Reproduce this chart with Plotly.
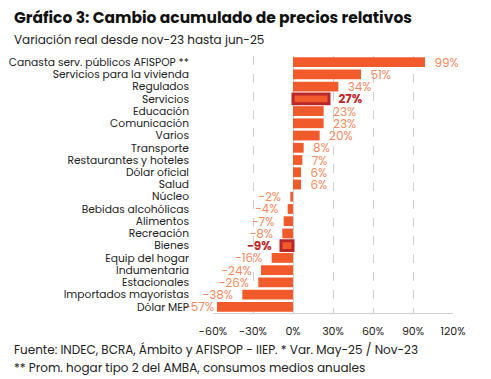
import plotly.graph_objects as go

categories = ["Canasta serv. públicos AFISPOP **", "Servicios para la vivienda", "Regulados",
              "Servicios", "Educación", "Comunicación", "Varios", "Transporte",
              "Restaurantes y hoteles", "Dólar oficial", "Salud", "Núcleo",
              "Bebidas alcohólicas", "Alimentos", "Recreación", "Bienes",
              "Equip del hogar", "Indumentaria", "Estacionales",
              "Importados mayoristas", "Dólar MEP"]
values = [99, 51, 34, 27, 23, 23, 20, 8, 7, 6, 6, -2, -4, -7, -8, -9, -16, -24, -26, -38, -57]
highlighted = ["Servicios", "Bienes"]
tick_vals = [-60, -30, 0, 30, 60, 90, 120]
tick_text = ["-60%", "-30%", "0%", "30%", "60%", "90%", "120%"]

BAR = "#F15A2B"
LBL = "#F58A62"
HL = "#B8282A"
FONT = "Poppins, Inter, Open Sans, sans-serif"


def fmt(c, v):
    s = f"{v}%".replace("-", "−")
    if c in highlighted:
        s = f"<b>{s}</b>"
    if v >= 0:
        return "  " + s
    if v <= -50:
        return s
    return s + "  "


line_colors = [HL if c in highlighted else "rgba(0,0,0,0)" for c in categories]
line_widths = [3 if c in highlighted else 0 for c in categories]
texts = [fmt(c, v) for c, v in zip(categories, values)]
text_colors = [HL if c in highlighted else LBL for c in categories]

fig = go.Figure(go.Bar(
    x=values, y=categories, orientation="h",
    marker=dict(color=BAR, line=dict(color=line_colors, width=line_widths)),
    text=texts, textposition="outside", cliponaxis=False, constraintext="none",
    textfont=dict(color=text_colors, size=12, family=FONT),
    hoverinfo="skip",
))

# page has an 8px body margin: figure drawn at (8, 8)
fig.update_layout(
    width=483, height=371,
    margin=dict(l=205, r=38, t=48, b=66),
    paper_bgcolor="white", plot_bgcolor="white",
    bargap=0.2, showlegend=False,
    font=dict(family=FONT, color="#222222"),
    xaxis=dict(range=[-60, 120], tickvals=tick_vals, ticktext=tick_text, automargin=False,
               showgrid=True, gridcolor="#D0D0D0", griddash="dash", gridwidth=1,
               zeroline=True, zerolinecolor="#D0D0D0", zerolinewidth=1,
               showline=True, linecolor="#D0D0D0", linewidth=1,
               ticks="", tickfont=dict(size=11, color="#222222"), ticklabelstandoff=8),
    yaxis=dict(autorange="reversed", tickmode="array", tickvals=categories, ticktext=categories,
               automargin=False, showgrid=False, zeroline=False, showline=False,
               ticks="", tickfont=dict(size=10.7, color="#222222"), ticklabelstandoff=23),
    annotations=[
        dict(text="<b>Gráfico 3: Cambio acumulado de precios relativos</b>", xref="paper", yref="paper",
             x=(12 - 213) / 240, y=(313 - 17) / 257, xanchor="left", yanchor="middle", showarrow=False,
             font=dict(size=15.5, color="#111111", family=FONT)),
        dict(text="Variación real desde nov-23 hasta jun-25", xref="paper", yref="paper",
             x=(12 - 213) / 240, y=(313 - 39) / 257, xanchor="left", yanchor="middle", showarrow=False,
             font=dict(size=12, color="#222222", family=FONT)),
        dict(text="Fuente: INDEC, BCRA, Ámbito y AFISPOP - IIEP. * Var. May-25 / Nov-23", xref="paper", yref="paper",
             x=(12 - 213) / 240, y=(313 - 349) / 257, xanchor="left", yanchor="middle", showarrow=False,
             font=dict(size=12, color="#222222", family=FONT)),
        dict(text="** Prom. hogar tipo 2 del AMBA, consumos medios anuales", xref="paper", yref="paper",
             x=(12 - 213) / 240, y=(313 - 367) / 257, xanchor="left", yanchor="middle", showarrow=False,
             font=dict(size=12, color="#222222", family=FONT)),
    ],
)

fig.write_html("out.html")
